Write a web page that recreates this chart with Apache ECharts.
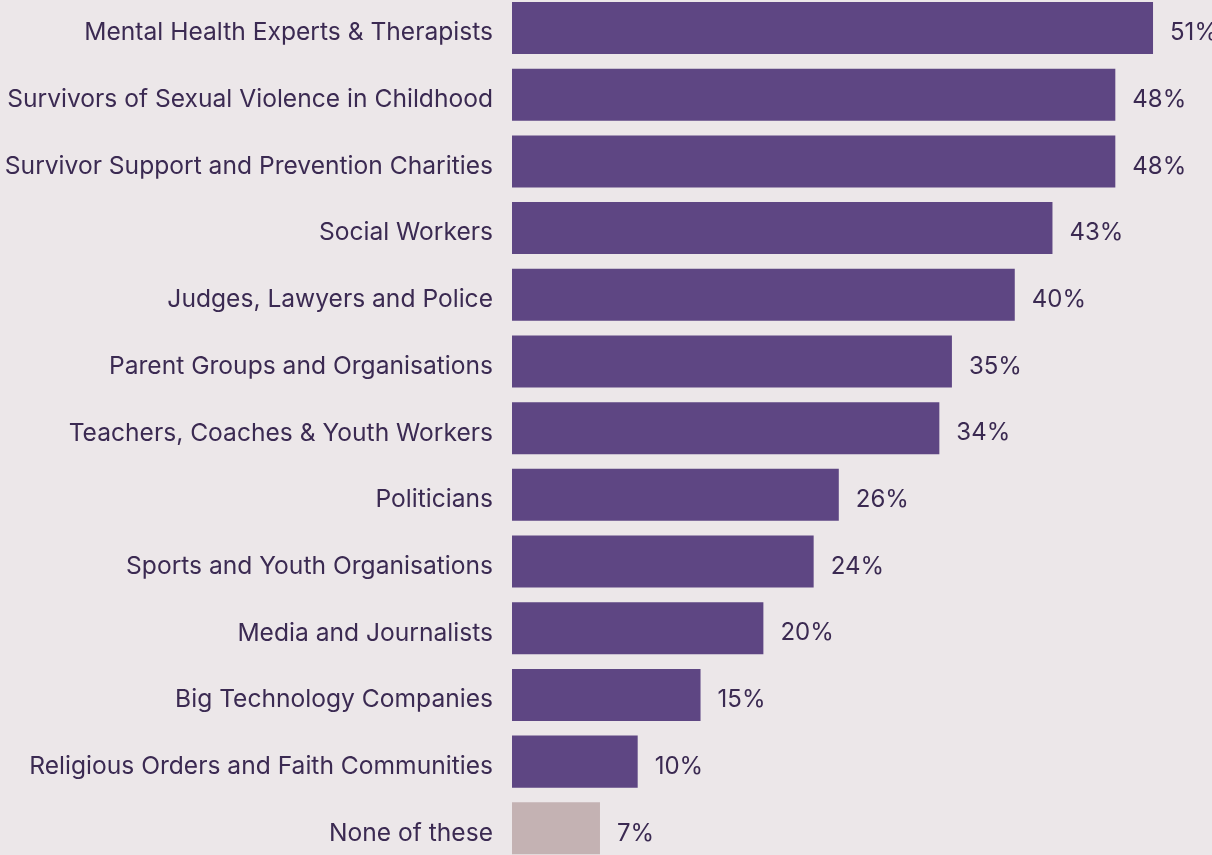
<!DOCTYPE html>
<html>
<head>
<meta charset="utf-8">
<script src="https://cdn.jsdelivr.net/npm/echarts@6/dist/echarts.min.js"></script>
<style>
  html, body { margin: 0; padding: 0; background: #ece7e9; overflow: hidden; }
  #chart { position: absolute; left: 0; top: -6px; width: 1212px; height: 868px; }
</style>
</head>
<body>
<div id="chart"></div>
<script>
// categories, top to bottom
const categories = [
  'Mental Health Experts & Therapists',
  'Survivors of Sexual Violence in Childhood',
  'Survivor Support and Prevention Charities',
  'Social Workers',
  'Judges, Lawyers and Police',
  'Parent Groups and Organisations',
  'Teachers, Coaches & Youth Workers',
  'Politicians',
  'Sports and Youth Organisations',
  'Media and Journalists',
  'Big Technology Companies',
  'Religious Orders and Faith Communities',
  'None of these'
];
const values = [51, 48, 48, 43, 40, 35, 34, 26, 24, 20, 15, 10, 7];
const highlightOff = ['None of these'];

const textColor = '#3b2a52';
const barColor = '#5e4683';
const mutedColor = '#c4b2b3';

const chartInstance = echarts.init(document.getElementById('chart'));

const option = {
  backgroundColor: '#ece7e9',
  animation: false,
  grid: {
    left: 512,
    right: 8.7,
    top: 0.67,
    bottom: 0.33,
    containLabel: false,
    outerBoundsMode: 'none'
  },
  xAxis: {
    type: 'value',
    min: 0,
    max: 55,
    show: false
  },
  yAxis: {
    type: 'category',
    inverse: true,
    data: categories,
    axisLine: { show: false },
    axisTick: { show: false },
    axisLabel: {
      margin: 19,
      formatter: '{a|{value}}',
      rich: {
        a: {
          padding: [10, 0, 0, 0],
          color: textColor,
          fontFamily: 'Inter',
          fontSize: 24.6
        }
      }
    }
  },
  series: [
    {
      type: 'bar',
      barCategoryGap: '22%',
      data: values.map((v, i) => ({
        value: v,
        itemStyle: { color: highlightOff.includes(categories[i]) ? mutedColor : barColor }
      })),
      label: {
        show: true,
        position: 'right',
        distance: 17,
        offset: [0, 5],
        formatter: '{c}%',
        color: textColor,
        fontFamily: 'Inter',
        fontSize: 24
      }
    }
  ]
};
chartInstance.setOption(option);
</script>
</body>
</html>
